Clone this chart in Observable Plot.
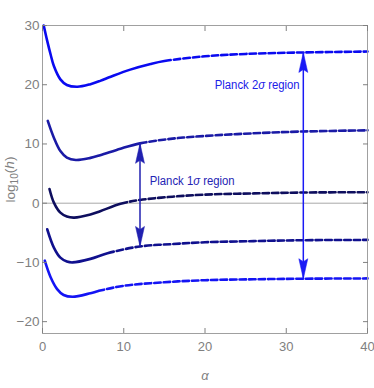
<!DOCTYPE html>
<html><head><meta charset="utf-8">
<script src="https://cdn.jsdelivr.net/npm/d3@7"></script>
<script src="https://cdn.jsdelivr.net/npm/@observablehq/plot@0.6"></script>
<style>body{margin:0;background:#fff}</style>
</head><body><div id="chart"></div>
<script>
// ---- data ----
const alpha1 = [0.15, 0.58, 1.0, 1.4, 2.2, 3.0, 4.3, 5.9, 7.1, 8.4, 10.8, 13.3, 15, 20, 25, 32, 40];
const logh1  = [30, 27.4, 25.1, 23.15, 20.9, 19.95, 19.66, 20.1, 20.65, 21.35, 22.55, 23.5, 24.0, 24.8, 25.2, 25.45, 25.6];
const alpha2 = [0.65, 1.4, 2.2, 3.0, 4.1, 5.9, 7.1, 9.6, 12, 16, 20, 26, 32, 40];
const logh2  = [13.9, 11.06, 8.8, 7.7, 7.3, 7.65, 8.1, 9.2, 10.1, 10.9, 11.35, 11.8, 12.1, 12.3];
const alpha3 = [0.86, 1.4, 2.2, 3.0, 3.9, 5.9, 7.1, 9.6, 12, 16, 20, 26, 32, 40];
const logh3  = [2.4, 0.1, -1.6, -2.26, -2.43, -1.9, -1.35, -0.1, 0.55, 1.1, 1.45, 1.65, 1.8, 1.85];
const alpha4 = [0.58, 1.4, 2.2, 3.0, 3.7, 5.9, 8, 12, 16, 20, 26, 32, 40];
const logh4  = [-4.4, -7.5, -9.2, -9.85, -10.0, -9.4, -8.45, -7.3, -6.9, -6.6, -6.4, -6.25, -6.2];
const alpha5 = [0.28, 1.0, 1.8, 2.6, 3.7, 5.9, 7.1, 10, 15, 20, 26, 32, 40];
const logh5  = [-9.7, -12.5, -14.5, -15.5, -15.8, -15.2, -14.75, -13.95, -13.35, -13.0, -12.85, -12.75, -12.7];
const solidUntil = [15, 12, 9.6, 8, 6.8];           // alpha where each curve turns dashed
const curveColors = ["#0a0af0", "#1a1aa6", "#0e0e5e", "#10108e", "#1414f4"];

const arrow1 = {alpha: 12, top: 10.1, bottom: -7.3, color: "#2020b0"};
const arrow2 = {alpha: 32.1, top: 25.45, bottom: -12.75, color: "#1a1af5"};
const labels = [
  {alpha: 13.2, y: 3.8, text: "Planck 1σ region", color: "#2424b4"},
  {alpha: 21.2, y: 19.95, text: "Planck 2σ region", color: "#2020e8"}
];
const xTicks = [0, 10, 20, 30, 40];
const yTicks = [-20, -10, 0, 10, 20, 30];

// ---- build ----
const curves = [[alpha1, logh1], [alpha2, logh2], [alpha3, logh3], [alpha4, logh4], [alpha5, logh5]];
const lineMarks = curves.map(([as, ys], i) =>
  Plot.line(as.map((a, j) => ({a, y: ys[j]})), {x: "a", y: "y", stroke: curveColors[i], strokeWidth: 2.6, curve: "catmull-rom"})
);

const headUp = {draw(ctx) { ctx.moveTo(0, 0); ctx.lineTo(4.5, 20); ctx.lineTo(0, 17); ctx.lineTo(-4.5, 20); ctx.closePath(); }};
function arrowMarks(ar) {
  return [
    Plot.ruleX([ar], {x: "alpha", y1: "bottom", y2: "top", stroke: ar.color, strokeWidth: 1.5}),
    Plot.dot([ar], {x: "alpha", y: "top", symbol: headUp, fill: ar.color, stroke: ar.color, strokeWidth: 0.5}),
    Plot.dot([ar], {x: "alpha", y: "bottom", symbol: headUp, fill: ar.color, stroke: ar.color, strokeWidth: 0.5, rotate: 180})
  ];
}

const font = "'Liberation Sans Narrow', 'Liberation Sans', 'Arial Narrow', sans-serif";
const chart = Plot.plot({
  width: 374, height: 388,
  marginLeft: 42, marginRight: 7, marginTop: 25, marginBottom: 55,
  style: {fontFamily: font, fontSize: "12.5px", color: "#808080", background: "#fff"},
  x: {domain: [0, 40]},
  y: {domain: [-22, 30]},
  marks: [
    Plot.ruleY([0], {stroke: "#a8a8a8", strokeWidth: 1}),
    ...lineMarks,
    ...arrowMarks(arrow1),
    ...arrowMarks(arrow2),
    Plot.text(labels, {x: "alpha", y: "y", text: "text", fill: "color", textAnchor: "start", fontSize: 13.5}),
    Plot.frame({stroke: "#a0a0a0"}),
    Plot.axisX({anchor: "bottom", ticks: xTicks, tickSize: -5, tickPadding: 13, label: "α", labelAnchor: "center", labelOffset: 46, labelArrow: "none", fontSize: 13}),
    Plot.axisX({anchor: "top", ticks: xTicks, tickSize: -5, tickFormat: () => "", label: null}),
    Plot.axisY({anchor: "left", ticks: yTicks, tickSize: -5, tickPadding: 8, label: "LOGLABEL", labelAnchor: "center", labelOffset: 37, labelArrow: "none", fontSize: 13.5}),
    Plot.axisY({anchor: "right", ticks: yTicks, tickSize: -5, tickFormat: () => "", label: null})
  ]
});
document.getElementById("chart").appendChild(chart);

// solid first part, dashed remainder (one continuous spline per curve)
const xScale = chart.scale("x");
d3.select(chart).selectAll('g[aria-label="line"] path').each(function(_, i) {
  const p = this, total = p.getTotalLength();
  const xs = xScale.apply(solidUntil[i]);
  let lo = 0, hi = total;
  for (let k = 0; k < 40; k++) {
    const mid = (lo + hi) / 2;
    if (p.getPointAtLength(mid).x < xs) lo = mid; else hi = mid;
  }
  const arr = [lo, 0];
  let rem = total - lo;
  while (rem > 0) { arr.push(6.5, 3); rem -= 9.5; }
  p.setAttribute("stroke-dasharray", arr.map(v => v.toFixed(2)).join(" "));
});

// italic sigma / alpha / h, subscript 10; condensed annotation text
d3.select(chart).selectAll("text").each(function() {
  const t = d3.select(this);
  const s = this.textContent;
  if (s.includes("σ")) {
    const [a, b] = s.split("σ");
    t.text(null);
    t.append("tspan").text(a);
    t.append("tspan").attr("font-style", "italic").text("σ");
    t.append("tspan").text(b);
    const ax = +(t.attr("x") || 0);
    t.attr("transform", (t.attr("transform") || "") + ` translate(${ax},0) scale(0.84,1) translate(${-ax},0)`);
  } else if (s === "α") {
    t.attr("font-style", "italic");
  } else if (s === "LOGLABEL") {
    t.text(null);
    t.append("tspan").text("log");
    t.append("tspan").attr("dy", "0.3em").attr("font-size", "0.75em").text("10");
    t.append("tspan").attr("dy", "-0.3em").text("(");
    t.append("tspan").attr("font-style", "italic").text("h");
    t.append("tspan").text(")");
  }
});
</script>
</body></html>
